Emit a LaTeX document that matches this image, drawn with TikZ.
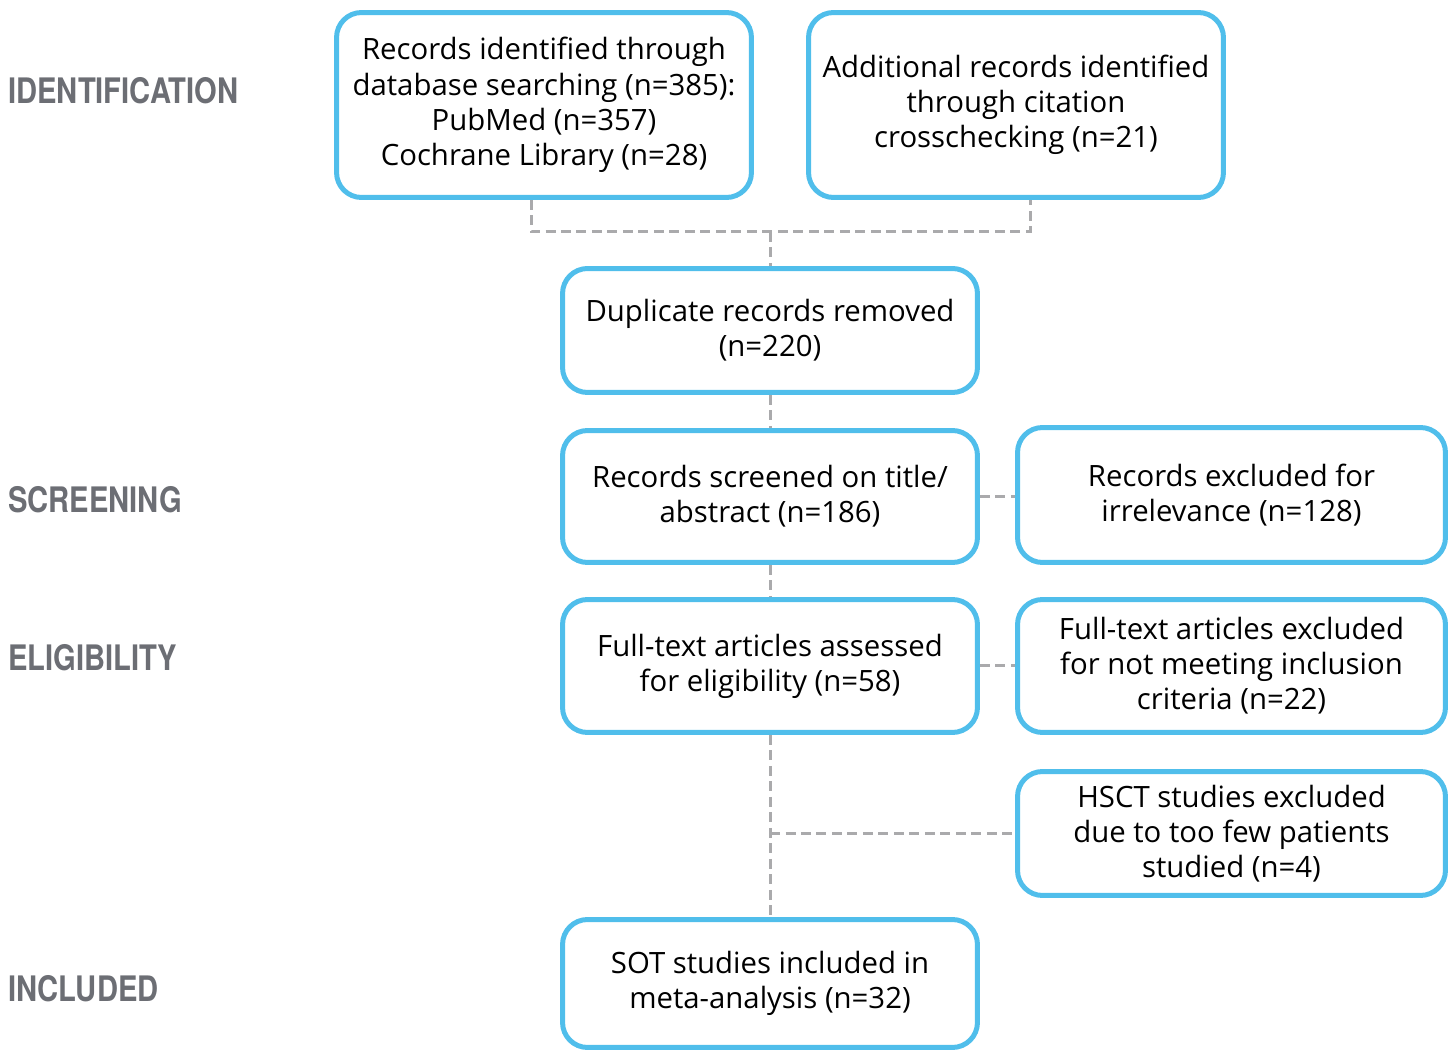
\documentclass[tikz,border=0pt]{standalone}
\usepackage{fontspec}
\setmainfont{Open Sans}
\newfontfamily\stagefont[FakeStretch=0.83]{TeX Gyre Heros}
\definecolor{boxblue}{RGB}{80,190,235}
\definecolor{dashgrey}{RGB}{170,170,172}
\definecolor{stagegrey}{RGB}{108,110,116}

\begin{document}
\begin{tikzpicture} [
    x=0.02cm, y=-0.02cm,
    box/.style={rectangle, draw=boxblue, line width=0.1cm, rounded corners=0.5cm, minimum width=8.3cm, align=center, font=\fontsize{16.7}{20}\selectfont},
    widebox/.style={box, minimum width=8.56cm},
    stage/.style={anchor=west, inner sep=0pt, text=stagegrey, font=\stagefont\bfseries\fontsize{20}{24}\selectfont},
    link/.style={draw=dashgrey, line width=0.06cm, dash pattern=on 0.2cm off 0.11cm}
]
    \useasboundingbox (0,0) rectangle (1455,1053);

    % Phasen
    \node[stage] (ident) at (8,91) {IDENTIFICATION};
    \node[stage] (screening) at (8,500) {SCREENING};
    \node[stage] (elig) at (8,658) {ELIGIBILITY};
    \node[stage] (included) at (8,989) {INCLUDED};

    % Identifikation
    \node[box, minimum height=3.7cm] (dbrec) at (544,105) {Records identified through\\database searching (n=385):\\PubMed (n=357)\\Cochrane Library (n=28)};
    \node[box, minimum height=3.7cm] (cite) at (1016,105) {Additional records identified\\through citation\\crosschecking (n=21)};
    \coordinate (join) at (770,232);

    % Screening
    \node[box, minimum height=2.48cm] (dup) at (770,330.5) {Duplicate records removed\\(n=220)};
    \node[box, minimum height=2.64cm] (screen) at (770,496.5) {Records screened on title/\\abstract (n=186)};
    \node[widebox, minimum height=2.7cm] (irrel) at (1231.5,495) {Records excluded for\\irrelevance (n=128)};

    % Eignung
    \node[box, minimum height=2.66cm] (full) at (770,666) {Full-text articles assessed\\for eligibility (n=58)};
    \node[widebox, minimum height=2.66cm] (crit) at (1231.5,666) {Full-text articles excluded\\for not meeting inclusion\\criteria (n=22)};
    \node[widebox, minimum height=2.48cm] (hsct) at (1231.5,833.5) {HSCT studies excluded\\due to too few patients\\studied (n=4)};

    % Eingeschlossen
    \node[box, minimum height=2.56cm] (incl) at (770,983.5) {SOT studies included in\\meta-analysis (n=32)};

    % Verbindungen (gestrichelt)
    \draw[link] ([xshift=-0.26cm]dbrec.south) -- ++(0,-0.64cm) -| ([xshift=0.28cm]cite.south);
    \draw[link] (join) -- (dup);
    \draw[link] (dup) -- (screen);
    \draw[link] (screen) -- (irrel.west |- screen);
    \draw[link] (screen) -- (full);
    \draw[link] (full) -- (crit);
    \draw[link] (full) -- (incl);
    \draw[link] (full.south |- hsct.west) -- (hsct.west);
\end{tikzpicture}
\end{document}
